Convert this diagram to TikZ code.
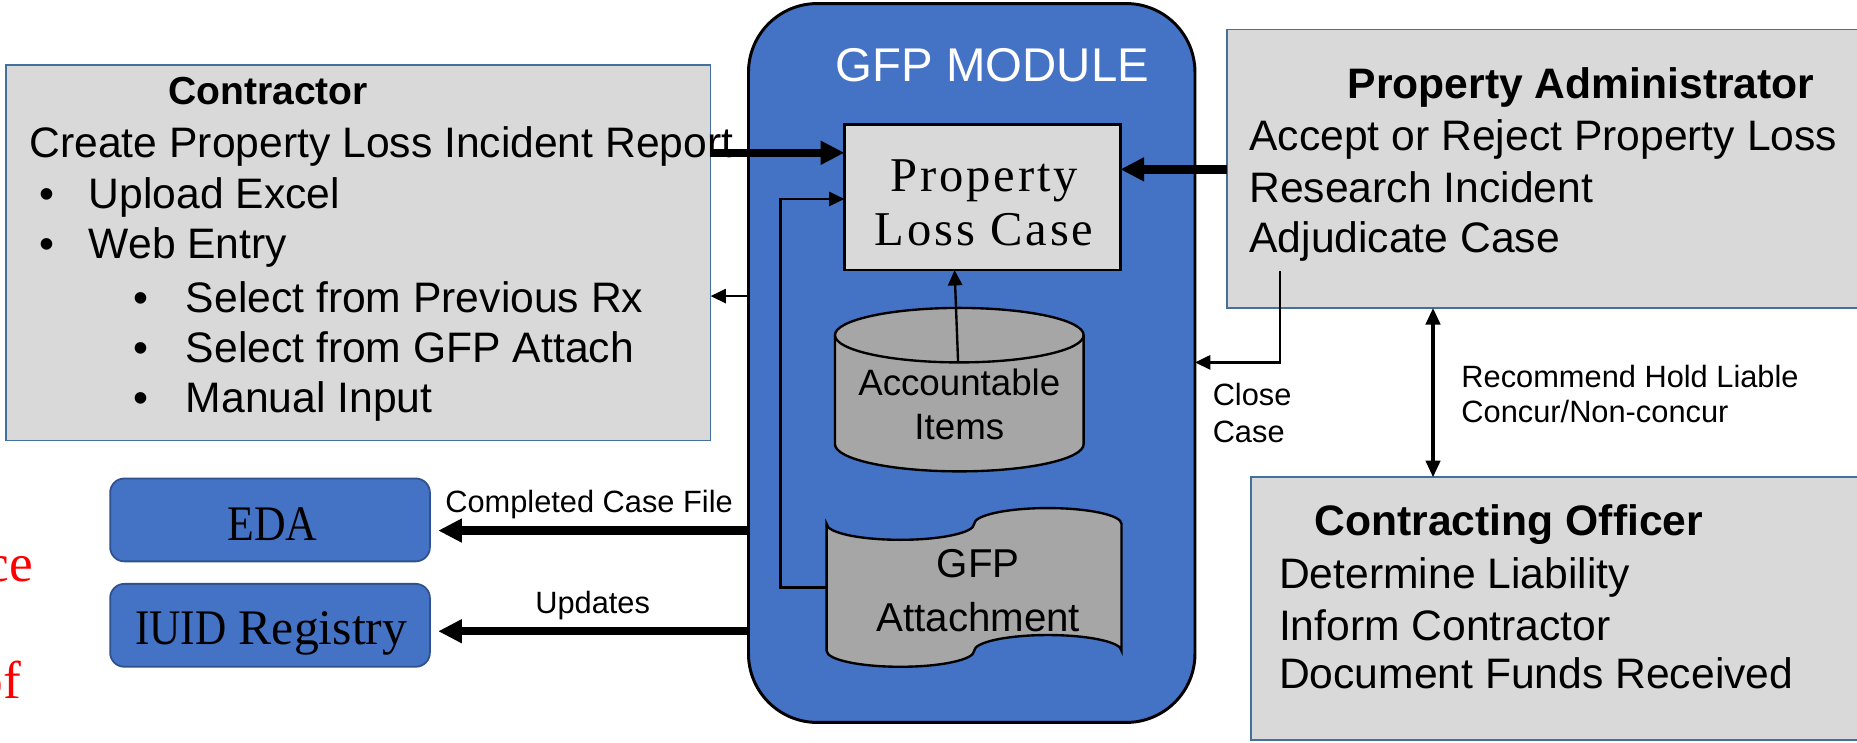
\documentclass[tikz,border=0pt]{standalone}
\usepackage{fontspec}
\setmainfont{Liberation Sans}
\newfontfamily\serifA{Liberation Serif}
\newfontfamily\serifS[LetterSpace=6]{Liberation Serif}
\usetikzlibrary{arrows.meta}
\newcommand\myfs[2]{\fontsize{#1}{#2}\selectfont}
\definecolor{modblue}{HTML}{4472C4}
\definecolor{boxgray}{HTML}{D9D9D9}
\definecolor{boxedge}{HTML}{41719C}
\definecolor{dkgray}{HTML}{A6A6A6}
\definecolor{edaedge}{HTML}{2F528F}
\begin{document}
\begin{tikzpicture}[x=1pt,y=-1pt,
  graybox/.style={draw=boxedge, line width=1.5pt, fill=boxgray, inner sep=0pt, outer sep=0pt},
  bluebox/.style={draw=edaedge, line width=1.5pt, fill=modblue, rounded corners=12pt, inner sep=0pt, outer sep=0pt, minimum width=270pt, minimum height=70pt},
  txt/.style={inner sep=0pt, outer sep=0pt, anchor=base west, font=\myfs{36}{43}},
  ttl/.style={inner sep=0pt, outer sep=0pt, anchor=base west, font=\bfseries\myfs{36}{43}},
  lbl/.style={inner sep=0pt, outer sep=0pt, anchor=base west, font=\myfs{26}{30}},
  bigarrow/.style={line width=7pt, -{Triangle[length=20pt,width=19pt]}},
  thinarrow/.style={line width=2pt, -{Triangle[length=13pt,width=12pt]}},
  dblarrow/.style={line width=3pt, {Triangle[length=14pt,width=12pt]}-{Triangle[length=14pt,width=12pt]}},
  shapeline/.style={draw=black, line width=2pt, fill=dkgray}
]
\useasboundingbox (0,0) rectangle (1568,627);

% red cut-off text
\node[inner sep=0pt, anchor=base east, text=red, font=\serifA\myfs{45}{50}] (redce) at (28,491) {ce};
\node[inner sep=0pt, anchor=base east, text=red, font=\serifA\myfs{45}{50}] (redof) at (18,590) {of};

% GFP module
\node[draw=black, line width=2.5pt, fill=modblue, rounded corners=58pt, minimum width=377pt, minimum height=607pt, inner sep=0pt, outer sep=0pt] (module) at (820.5,306.5) {};
\node[inner sep=0pt, anchor=base, text=white, font=\myfs{40}{46}] (modtitle) at (838,69) {GFP MODULE};

% Property Loss Case
\node[draw=black, line width=2pt, fill=boxgray, minimum width=233pt, minimum height=123pt, inner sep=0pt, outer sep=0pt] (plc) at (829.5,166.5) {};
\node[inner sep=0pt, anchor=base, font=\serifS\myfs{41}{45}] (plc1) at (831,162) {Property};
\node[inner sep=0pt, anchor=base, font=\serifS\myfs{41}{45}] (plc2) at (831,207) {Loss Case};

% Accountable Items cylinder
\path[shapeline] (705,283) -- (705,375)
  arc[start angle=180, end angle=360, x radius=105pt, y radius=23pt] -- (915,283)
  arc[start angle=0, end angle=180, x radius=105pt, y radius=23pt] -- cycle;
\draw[line width=2pt] (705,283) arc[start angle=180, end angle=360, x radius=105pt, y radius=23pt];
\coordinate (acctop) at (809,306);
\node[inner sep=0pt, anchor=base, font=\myfs{31}{37}] (acc1) at (810,334) {Accountable};
\node[inner sep=0pt, anchor=base, font=\myfs{31}{37}] (acc2) at (810,371) {Items};

% GFP Attachment (punched tape)
\path[shapeline] (698,442.4)
  arc[start angle=180, end angle=360, x radius=62.25pt, y radius=13.4pt]
  arc[start angle=180, end angle=0, x radius=62.25pt, y radius=13.4pt]
  -- (947,549.6)
  arc[start angle=0, end angle=180, x radius=62.25pt, y radius=13.4pt]
  arc[start angle=360, end angle=180, x radius=62.25pt, y radius=13.4pt]
  -- cycle;
\coordinate (attL) at (698,496);
\node[inner sep=0pt, anchor=base, font=\myfs{34}{45}] (att1) at (826,488) {GFP};
\node[inner sep=0pt, anchor=base, font=\myfs{34}{45}] (att2) at (826,533) {Attachment};

% Contractor box
\node[graybox, minimum width=595pt, minimum height=317pt] (contractor) at (302.5,213.5) {};
\node[ttl, font=\bfseries\myfs{33}{40}] (ct0) at (142,88) {Contractor};
\node[txt] (ct1) at (25,133) {Create Property Loss Incident Report};
\node[txt] (cb2) at (33,176) {•};
\node[txt] (ct2) at (75,176) {Upload Excel};
\node[txt] (cb3) at (33,218) {•};
\node[txt] (ct3) at (75,218) {Web Entry};
\node[txt] (cb4) at (113,264) {•};
\node[txt] (ct4) at (157,264) {Select from Previous Rx};
\node[txt] (cb5) at (113,306) {•};
\node[txt] (ct5) at (157,306) {Select from GFP Attach};
\node[txt] (cb6) at (113,348) {•};
\node[txt] (ct6) at (157,348) {Manual Input};

% Property Administrator box
\node[graybox, minimum width=864pt, minimum height=235pt] (pa) at (1468,142.5) {};
\node[ttl] (pa0) at (1138,83) {Property Administrator};
\node[txt] (pa1) at (1055,127) {Accept or Reject Property Loss};
\node[txt] (pa2) at (1055,171) {Research Incident};
\node[txt] (pa3) at (1055,213) {Adjudicate Case};

% Contracting Officer box
\node[graybox, minimum width=844pt, minimum height=222pt] (co) at (1478,514) {};
\node[ttl] (co0) at (1110,452) {Contracting Officer};
\node[txt] (co1) at (1080,497) {Determine Liability};
\node[txt] (co2) at (1080,541) {Inform Contractor};
\node[txt] (co3) at (1080,581) {Document Funds Received};

% EDA / IUID
\node[bluebox] (eda) at (228,439) {};
\node[inner sep=0pt, anchor=base, font=\serifA\myfs{42}{46}] (edat) at (230,456) {\scalebox{0.88}[1]{EDA}};
\node[bluebox] (iuid) at (228,528) {};
\node[inner sep=0pt, anchor=base, font=\serifA\myfs{42}{46}] (iuidt) at (229,544) {\scalebox{0.87}[1]{IUID} Registry};

% connectors
\draw[bigarrow] (contractor.east |- 0,129) -- (plc.west |- 0,129);
\draw[bigarrow] (pa.west |- 0,143) -- (plc.east |- 0,143);
\draw[thinarrow] (module.west |- 0,250) -- (contractor.east |- 0,250);
\draw[thinarrow] (acctop) -- (plc.south -| 806,0);
\draw[thinarrow] (attL) -- (659,496) -- (659,168) -- (plc.west |- 0,168);
\coordinate (ccstart) at (1081,229);
\draw[thinarrow] (ccstart) -- (1081,306) -- (module.east |- 0,306);
\draw[dblarrow] (pa.south -| 1210,0) -- (co.north -| 1210,0);
\draw[bigarrow, shorten >=7pt] (module.west |- 0,448) -- (eda.east |- 0,448);
\draw[bigarrow, shorten >=7pt] (module.west |- 0,533) -- (iuid.east |- 0,533);

% labels
\node[lbl] (l1) at (376,433) {Completed Case File};
\node[lbl] (l2) at (452,518) {Updates};
\node[lbl] (l3) at (1024,342) {Close};
\node[lbl] (l4) at (1024,374) {Case};
\node[lbl] (l5) at (1234,327) {Recommend Hold Liable};
\node[lbl] (l6) at (1234,357) {Concur/Non-concur};
\end{tikzpicture}
\end{document}
